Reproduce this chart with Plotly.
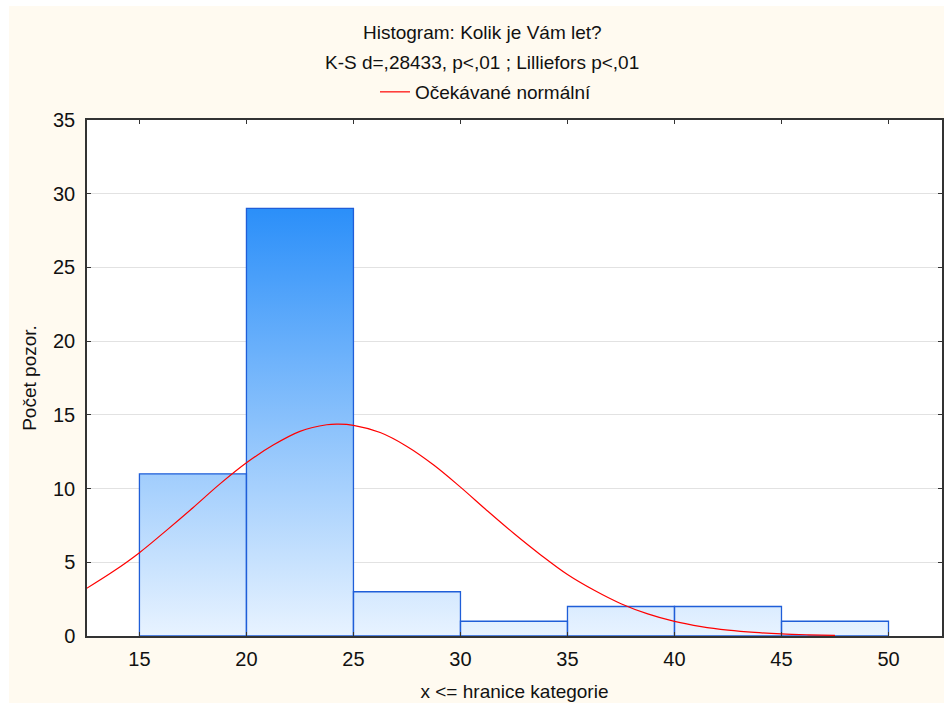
import plotly.graph_objects as go

# ---- data ----
bin_edges = [15, 20, 25, 30, 35, 40, 45, 50]
counts = [11, 29, 3, 1, 2, 2, 1]

# expected normal curve
curve_x = [12.5, 13.75, 15, 16.25, 17.5, 18.75, 20, 21.25, 22.5, 23.75, 24.3, 25, 26.25,
           27.5, 28.75, 30, 31.25, 32.5, 33.75, 35, 36.25, 37.5, 38.75, 40, 41.25,
           42.5, 43.75, 45, 46.25, 47.5]
curve_y = [3.2, 4.35, 5.65, 7.15, 8.7, 10.3, 11.75, 12.95, 13.88, 14.33, 14.37, 14.29, 13.8,
           12.86, 11.6, 10.1, 8.5, 6.95, 5.5, 4.17, 3.1, 2.19, 1.5, 0.99, 0.64,
           0.40, 0.24, 0.14, 0.08, 0.04]

x_ticks = [15, 20, 25, 30, 35, 40, 45, 50]
y_ticks = [0, 5, 10, 15, 20, 25, 30, 35]

title1 = "Histogram: Kolik je Vám let?"
title2 = "K-S d=,28433, p<,01 ; Lilliefors p<,01"
legend_name = "Očekávané normální"
x_title = "x <= hranice kategorie"
y_title = "Počet pozor."

# ---- build bar outlines (data coordinates) ----
bx, by = [], []
for lo, hi, c in zip(bin_edges[:-1], bin_edges[1:], counts):
    bx += [lo, lo, hi, hi, lo, None]
    by += [0, c, c, 0, 0, None]

FONT = "Liberation Sans, Arial, sans-serif"
CREAM = "#fffaf0"

fig = go.Figure()
fig.add_trace(go.Scatter(
    x=bx, y=by, mode="lines", fill="toself",
    line=dict(color="#1f5ed8", width=1.3),
    fillgradient=dict(type="vertical",
                      colorscale=[[0, "#e8f3ff"], [1, "#2b8ff9"]],
                      start=0, stop=max(counts)),
    showlegend=False, hoverinfo="skip"))

fig.add_trace(go.Scatter(
    x=curve_x, y=curve_y, mode="lines", line=dict(color="#ff0000", width=1.2, shape="spline"),
    name=legend_name, showlegend=True))

L, R, T, B = 87, 2, 120, 69
W, H = 944, 705
pw, ph = W - L - R, H - T - B


def px_x(p):
    return (p - L) / pw


def px_y(p):
    return (H - B - p) / ph


fig.update_layout(
    width=W, height=H,
    margin=dict(l=L, r=R, t=T, b=B, autoexpand=False),
    paper_bgcolor=CREAM, plot_bgcolor="white",
    font=dict(family=FONT, size=19, color="#111111"),
    showlegend=True,
    legend=dict(orientation="h", x=px_x(486), xanchor="center",
                y=px_y(92), yanchor="middle",
                bgcolor="rgba(0,0,0,0)", font=dict(size=19, family=FONT),
                itemwidth=30),
    xaxis=dict(range=[12.55, 52.5], tickvals=x_ticks, showgrid=False, zeroline=False,
               automargin=False,
               ticks="inside", ticklen=4, tickcolor="#333", showline=True, linecolor="#333",
               linewidth=1.5, mirror="allticks", ticklabelstandoff=4,
               tickfont=dict(size=20),
               title=dict(text=x_title, standoff=16, font=dict(size=19))),
    yaxis=dict(range=[0, 35], tickvals=y_ticks, showgrid=True, gridcolor="#e2e2e2",
               gridwidth=1.2, zeroline=False, automargin=False,
               ticks="inside", ticklen=4, tickcolor="#333", showline=True, linecolor="#333",
               linewidth=1.5, mirror="allticks", ticklabelstandoff=6,
               tickfont=dict(size=20),
               title=dict(text=y_title, standoff=11, font=dict(size=19))),
    annotations=[
        dict(text=title1, xref="paper", yref="paper", x=px_x(482), y=px_y(33),
             xanchor="center", yanchor="middle", showarrow=False, font=dict(size=19)),
        dict(text=title2, xref="paper", yref="paper", x=px_x(482), y=px_y(62),
             xanchor="center", yanchor="middle", showarrow=False, font=dict(size=19)),
    ],
    shapes=[
        dict(type="rect", xref="paper", yref="paper", x0=px_x(0), x1=px_x(9),
             y0=px_y(H), y1=px_y(0), fillcolor="white", line_width=0, layer="below"),
        dict(type="rect", xref="paper", yref="paper", x0=px_x(0), x1=px_x(W),
             y0=px_y(6), y1=px_y(0), fillcolor="white", line_width=0, layer="below"),
        dict(type="rect", xref="paper", yref="paper", x0=px_x(0), x1=px_x(W),
             y0=px_y(H), y1=px_y(H - 2), fillcolor="white", line_width=0, layer="below"),
    ],
)

fig.write_html("out.html", config={"displayModeBar": False},
               post_script="document.body.style.margin='0';document.body.style.overflow='hidden';")
